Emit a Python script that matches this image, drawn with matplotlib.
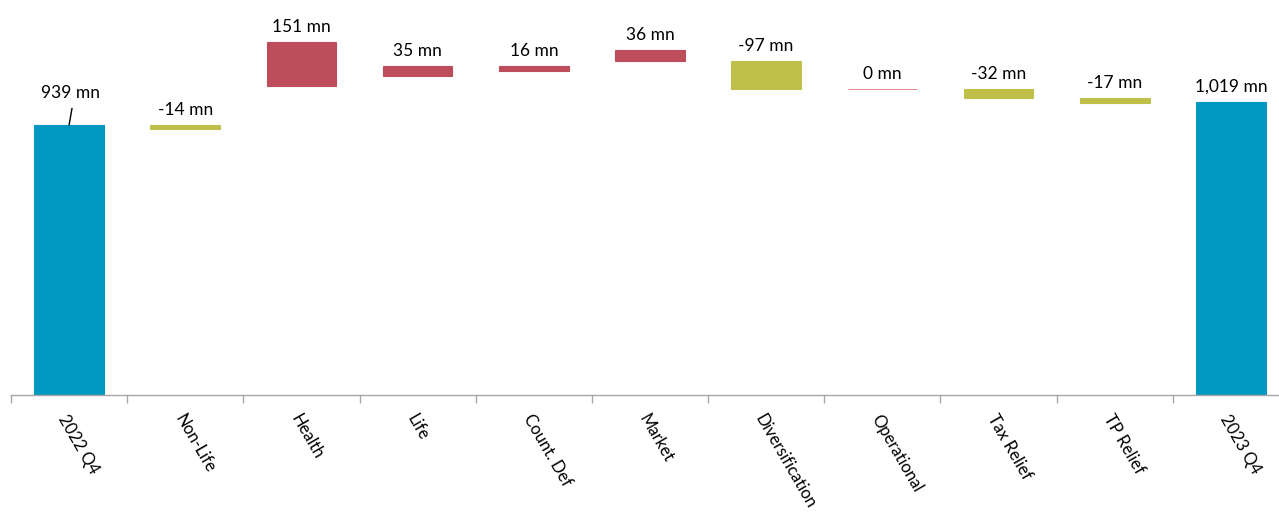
import numpy as np
import matplotlib.pyplot as plt

plt.rcParams['font.family'] = ['Lato', 'DejaVu Sans']

categories = ['2022 Q4', 'Non-Life', 'Health', 'Life', 'Count. Def', 'Market',
              'Diversification', 'Operational', 'Tax Relief', 'TP Relief', '2023 Q4']
start_val = 939
changes = [-14, 151, 35, 16, 36, -97, 0, -32, -17]
end_val = 1019
labels = ['939 mn', '-14 mn', '151 mn', '35 mn', '16 mn', '36 mn', '-97 mn',
          '0 mn', '-32 mn', '-17 mn', '1,019 mn']

blue = '#0097C0'
red = '#BD4D5B'
olive = '#BFC04A'

# base of each step bar = running total after the step, height = size of step
cum = start_val + np.cumsum(changes)
bottoms = [0] + list(cum) + [0]
heights = [start_val] + [abs(c) for c in changes] + [end_val]
colors = [blue] + [red if c >= 0 else olive for c in changes] + [blue]
edges = [c if h > 0 else '#E0707C' for c, h in zip(colors, heights)]

fig = plt.figure(figsize=(12.79, 5.17), dpi=100)
ax = fig.add_axes([11 / 1279, 0.236, 1278 / 1279, 0.764])

x = np.arange(len(categories))
bars = ax.bar(x, heights, bottom=bottoms, width=0.6, color=colors,
              edgecolor=edges, linewidth=0.8)
for b, h in zip(bars, heights):
    if h == 0:
        b.set_linewidth(0.6)

for i in range(len(categories)):
    top = bottoms[i] + heights[i]
    if i == 0:
        ax.annotate(labels[i], xy=(x[i], top), xytext=(x[i] + 0.01, top + 110),
                    ha='center', va='center', fontsize=12.5,
                    arrowprops=dict(arrowstyle='-', color='black', lw=1,
                                    shrinkA=3, shrinkB=0,
                                    relpos=(0.55, 0)))
    else:
        ax.annotate(labels[i], xy=(x[i], top), xytext=(0, 5),
                    textcoords='offset points', ha='center', va='bottom',
                    fontsize=12.5)

ax.set_xlim(-0.5, len(categories) - 0.5)
ax.set_ylim(0, 1374)
ax.set_xticks(np.arange(len(categories) + 1) - 0.5, minor=False)
ax.set_xticklabels([])
ax.set_xticks(x, minor=True)
ax.set_xticklabels(categories, minor=True, rotation=-60, ha='left', va='top',
                   rotation_mode='anchor', fontsize=12)
ax.tick_params(axis='x', which='major', length=6, color='#a6a6a6', width=1)
ax.tick_params(axis='x', which='minor', length=0, pad=12)

ax.set_yticks([])
for s in ['top', 'right', 'left']:
    ax.spines[s].set_visible(False)
ax.spines['bottom'].set_color('#a6a6a6')
ax.spines['bottom'].set_linewidth(1)

plt.savefig('out.png', dpi=100)
